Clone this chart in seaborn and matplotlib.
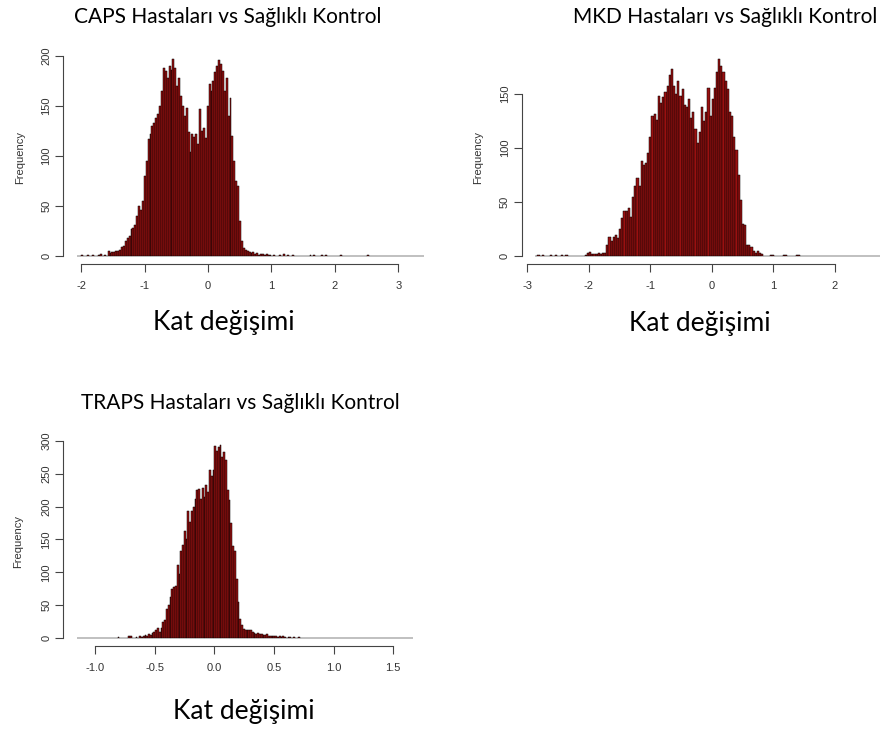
import numpy as np
import pandas as pd
import matplotlib
matplotlib.use("Agg")
import matplotlib.pyplot as plt
import seaborn as sns

sns.set_theme(style="white")
plt.rcParams['font.family'] = ['Liberation Sans', 'DejaVu Sans']

# ---------------- data (counts) ----------------
titles = ["CAPS Hastaları vs Sağlıklı Kontrol",
          "MKD Hastaları vs Sağlıklı Kontrol",
          "TRAPS Hastaları vs Sağlıklı Kontrol"]
xlabel_text = "Kat değişimi"
ylabel_text = "Frequency"

# CAPS
caps_binwidth = 0.03
caps_binrange = (-2.06, 3.40)
caps_core_start = -1.55
caps_core_counts = [3, 4, 4, 5, 5, 6, 9, 10, 15, 18, 20, 27, 28, 31, 40, 50, 46, 55, 80, 95,
                    117, 122, 130, 133, 138, 142, 150, 165, 188, 185, 178, 190, 186, 197, 188, 170, 178, 160, 150, 140,
                    148, 124, 104, 122, 119, 122, 112, 147, 125, 128, 118, 150, 172, 165, 175, 184, 190, 196, 192, 185,
                    165, 178, 140, 158, 120, 95, 75, 70, 35, 15, 8, 6, 5,
                    4, 3, 4, 2, 3, 1, 2, 2, 1, 2, 1, 1]
caps_tail_x = [-1.98, -1.90, -1.80, -1.72, -1.69, -1.62, -1.58,
               1.05, 1.12, 1.20, 1.25, 1.33, 1.62, 1.68, 1.78, 1.85, 2.08, 2.50]
caps_tail_counts = [1, 1, 1, 1, 2, 1, 5,
                    1, 1, 2, 1, 1, 1, 1, 1, 1, 1, 1]
caps_xticks = [-2, -1, 0, 1, 2, 3]
caps_xticklabels = ["-2", "-1", "0", "1", "2", "3"]
caps_yticks = [0, 50, 100, 150, 200]

# MKD
mkd_binwidth = 0.035
mkd_binrange = (-2.87, 2.73)
mkd_core_start = -2.065
mkd_core_counts = [1, 3, 4, 2, 2, 2, 3, 2, 3, 3,
                   10, 18, 14, 18, 20, 17, 25, 35, 42, 42,
                   45, 36, 55, 65, 72, 65, 88, 84, 86, 95,
                   110, 130, 132, 126, 148, 142, 147, 152, 157, 168,
                   173, 157, 150, 162, 148, 155, 140, 138, 145, 128,
                   133, 118, 105, 115, 138, 125, 133, 156, 130, 145,
                   156, 170, 182, 176, 170, 162, 155, 133, 130, 110,
                   98, 75, 52, 30, 29, 10, 10, 8, 5, 3,
                   5, 3, 2]
mkd_tail_x = [-2.82, -2.74, -2.61, -2.54, -2.44, -2.38, 0.95, 0.99, 1.17, 1.22, 1.38, 1.43]
mkd_tail_counts = [1, 1, 1, 1, 1, 1, 1, 1, 1, 1, 1, 1]
mkd_xticks = [-3, -2, -1, 0, 1, 2]
mkd_xticklabels = ["-3", "-2", "-1", "0", "1", "2"]
mkd_yticks = [0, 50, 100, 150]

# TRAPS
traps_binwidth = 0.015
traps_binrange = (-1.155, 1.665)
traps_core_start = -0.63
traps_core_counts = [3, 2, 3, 5, 4, 6, 5, 8, 9,
                     12, 15, 10, 15, 25, 28, 45, 50, 62, 75,
                     78, 80, 112, 98, 133, 142, 163, 150, 193, 177,
                     193, 200, 212, 225, 226, 212, 228, 215, 232, 222,
                     255, 247, 255, 292, 285, 290, 294, 275, 283, 270,
                     225, 210, 175, 140, 133, 90, 55,
                     30, 20, 14, 12, 13, 12, 13, 10, 8, 7,
                     8, 6, 7, 5, 5, 6, 4, 3, 4, 3,
                     4, 2, 3, 2, 3, 2, 1, 2, 2, 1,
                     2, 1, 1, 2, 1, 1]
traps_tail_x = [-1.148, -1.084, -0.958, -0.846, -0.804, -0.763, -0.72, -0.693, -0.65,
                0.80, 0.86, 0.96, 1.05, 1.07, 1.13, 1.43, 1.58]
traps_tail_counts = [1, 1, 1, 1, 2, 1, 3, 3, 2,
                     1, 1, 1, 1, 1, 1, 1, 1]
traps_xticks = [-1.0, -0.5, 0.0, 0.5, 1.0, 1.5]
traps_xticklabels = ["-1.0", "-0.5", "0.0", "0.5", "1.0", "1.5"]
traps_yticks = [0, 50, 100, 150, 200, 250, 300]

# ---------------- figure ----------------
W, H = 888, 731
fig = plt.figure(figsize=(W / 100, H / 100), dpi=100)
fig.patch.set_facecolor("white")

BAR_FACE = "#9a1010"
AXIS_COL = "#444444"
TICK_COL = "#333333"


def px_rect(left, right, top, bottom):
    return [left / W, 1 - bottom / H, (right - left) / W, (bottom - top) / H]


def draw_panel(rect, core_start, core_counts, tail_x, tail_counts, binwidth, binrange,
               xlim, ylim, xticks, xticklabels, yticks, ylab_x):
    centers = core_start + binwidth * (np.arange(len(core_counts)) + 0.5)
    df = pd.DataFrame({
        "value": list(centers) + list(tail_x),
        "count": list(core_counts) + list(tail_counts),
    })
    ax = fig.add_axes(rect)
    ax.set_facecolor("none")
    sns.histplot(data=df, x="value", weights="count", binwidth=binwidth, binrange=binrange,
                 ax=ax, color=BAR_FACE, edgecolor="black", linewidth=0.35, alpha=1)
    ax.set_xlim(*xlim)
    ax.set_ylim(*ylim)
    for s in ("top", "right"):
        ax.spines[s].set_visible(False)
    for s in ("left", "bottom"):
        ax.spines[s].set_visible(True)
        ax.spines[s].set_color(AXIS_COL)
        ax.spines[s].set_linewidth(0.8)
    ax.spines["left"].set_bounds(yticks[0], yticks[-1])
    ax.spines["bottom"].set_bounds(xticks[0], xticks[-1])
    ax.set_xticks(xticks)
    ax.set_xticklabels(xticklabels)
    ax.set_yticks(yticks)
    ax.set_yticklabels([str(v) for v in yticks])
    ax.tick_params(axis="both", direction="out", length=5.5, width=0.8, color=AXIS_COL,
                   labelsize=8, labelcolor=TICK_COL, bottom=True, left=True)
    ax.tick_params(axis="x", pad=7)
    ax.tick_params(axis="y", pad=3, labelrotation=90)
    for lab in ax.get_yticklabels():
        lab.set_va("center")
    ax.set_xlabel("")
    ax.set_ylabel(ylabel_text, fontsize=8, color=TICK_COL)
    ax.yaxis.set_label_coords(ylab_x, 0.5)
    ax.grid(False)
    return ax


draw_panel(px_rect(63.3, 437.7, 51.0, 264.0), caps_core_start, caps_core_counts,
           caps_tail_x, caps_tail_counts, caps_binwidth, caps_binrange,
           (-2.279, 3.618), (-7.88, 204.9), caps_xticks, caps_xticklabels, caps_yticks,
           (25.5 - 63.3) / 374.4)

draw_panel(px_rect(521.7, 893.9, 51.6, 264.0), mkd_core_start, mkd_core_counts,
           mkd_tail_x, mkd_tail_counts, mkd_binwidth, mkd_binrange,
           (-3.091, 2.964), (-7.28, 189.3), mkd_xticks, mkd_xticklabels, mkd_yticks,
           (483.5 - 521.7) / 372.2)

draw_panel(px_rect(63.3, 426.4, 436.8, 646.05), traps_core_start, traps_core_counts,
           traps_tail_x, traps_tail_counts, traps_binwidth, traps_binrange,
           (-1.266, 1.778), (-11.76, 305.8), traps_xticks, traps_xticklabels, traps_yticks,
           (23.5 - 63.3) / 363.1)

TITLE_FONT = ["Lato", "DejaVu Sans"]
def ftext(x, y, s, size):
    fig.text(x / W, 1 - y / H, s, ha="center", va="center", fontsize=size,
             family=TITLE_FONT, color="black")

ftext(228, 17, titles[0], 15)
ftext(725, 17, titles[1], 15)
ftext(240, 403, titles[2], 15)
ftext(224, 322, xlabel_text, 19)
ftext(700, 323, xlabel_text, 19)
ftext(244, 712, xlabel_text, 19)

fig.savefig("out.png", dpi=100, facecolor="white")
